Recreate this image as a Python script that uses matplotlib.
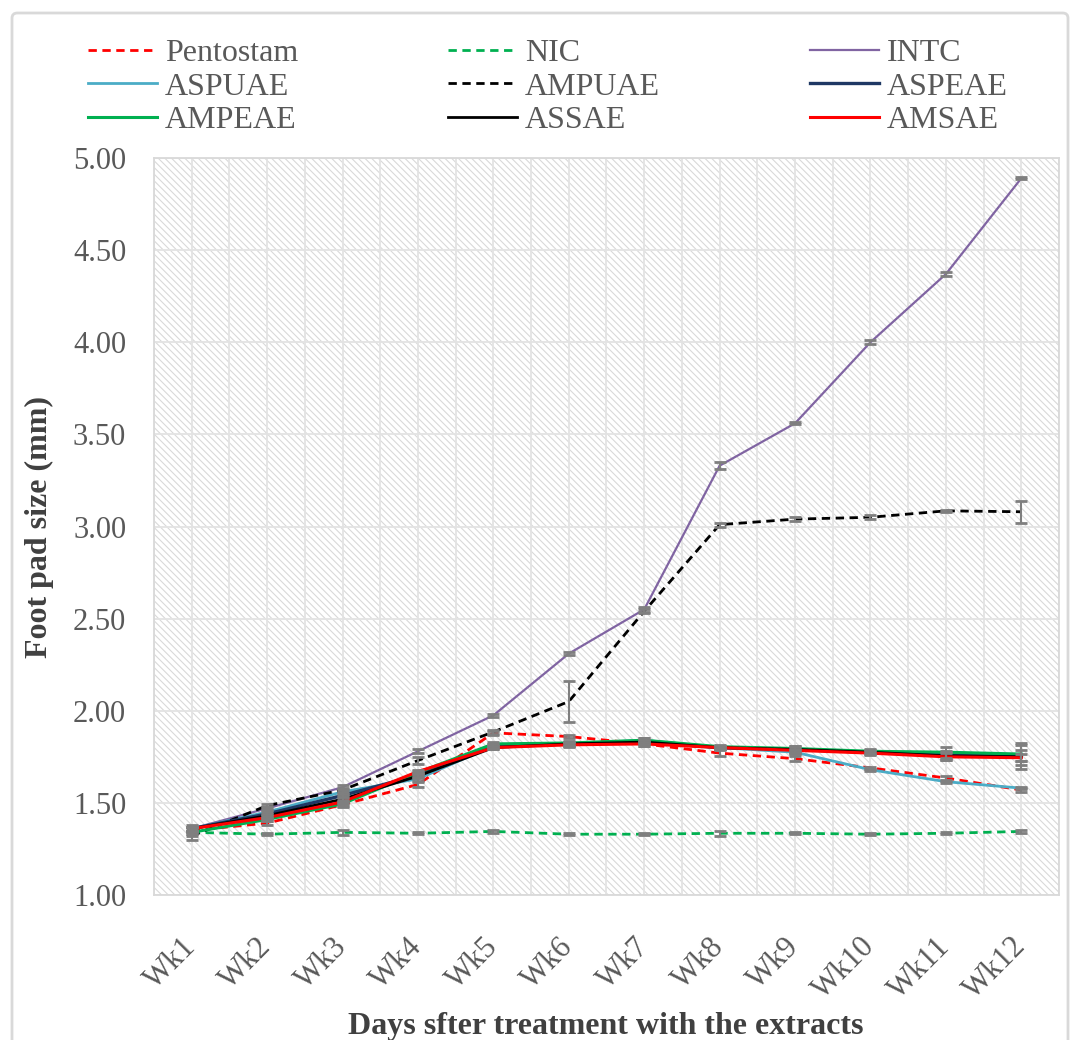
import matplotlib
matplotlib.use("Agg")
import matplotlib.pyplot as plt
from matplotlib.patches import FancyBboxPatch
from matplotlib.ticker import FixedLocator
import numpy as np

# ---------------- data ----------------
weeks = ['Wk1', 'Wk2', 'Wk3', 'Wk4', 'Wk5', 'Wk6', 'Wk7', 'Wk8', 'Wk9', 'Wk10', 'Wk11', 'Wk12']

pentostam = [1.35, 1.39, 1.49, 1.60, 1.88, 1.86, 1.82, 1.77, 1.74, 1.69, 1.635, 1.57]
nic       = [1.34, 1.33, 1.34, 1.335, 1.345, 1.33, 1.33, 1.335, 1.335, 1.33, 1.335, 1.345]
intc      = [1.36, 1.47, 1.585, 1.78, 1.975, 2.31, 2.55, 3.33, 3.56, 4.00, 4.37, 4.89]
aspuae    = [1.36, 1.45, 1.56, 1.63, 1.81, 1.82, 1.84, 1.80, 1.775, 1.68, 1.615, 1.58]
ampuae    = [1.32, 1.485, 1.57, 1.73, 1.885, 2.05, 2.54, 3.01, 3.04, 3.05, 3.085, 3.08]
aspeae    = [1.36, 1.44, 1.54, 1.65, 1.81, 1.82, 1.83, 1.80, 1.79, 1.775, 1.76, 1.755]
ampeae    = [1.34, 1.41, 1.495, 1.665, 1.82, 1.825, 1.84, 1.805, 1.795, 1.78, 1.775, 1.765]
assae     = [1.36, 1.43, 1.52, 1.645, 1.80, 1.82, 1.83, 1.80, 1.79, 1.775, 1.755, 1.75]
amsae     = [1.36, 1.42, 1.505, 1.67, 1.80, 1.815, 1.82, 1.80, 1.785, 1.77, 1.75, 1.745]

pentostam_err = [0.02, 0.01, 0.01, 0.015, 0.01, 0.01, 0.01, 0.015, 0.015, 0.005, 0.01, 0.01]
nic_err       = [0.02, 0.005, 0.015, 0.005, 0.01, 0.005, 0.005, 0.015, 0.005, 0.005, 0.005, 0.01]
intc_err      = [0.02, 0.01, 0.01, 0.01, 0.01, 0.01, 0.015, 0.02, 0.005, 0.01, 0.01, 0.005]
aspuae_err    = [0.01, 0.01, 0.01, 0.01, 0.01, 0.01, 0.01, 0.01, 0.01, 0.005, 0.005, 0.005]
ampuae_err    = [0.02, 0.01, 0.01, 0.02, 0.01, 0.11, 0.01, 0.01, 0.01, 0.01, 0.005, 0.06]
aspeae_err    = [0.01, 0.01, 0.01, 0.01, 0.01, 0.01, 0.01, 0.01, 0.02, 0.01, 0.02, 0.03]
ampeae_err    = [0.01, 0.01, 0.01, 0.01, 0.01, 0.01, 0.01, 0.01, 0.01, 0.01, 0.03, 0.06]
assae_err     = [0.01, 0.01, 0.01, 0.01, 0.01, 0.01, 0.01, 0.01, 0.02, 0.01, 0.02, 0.065]
amsae_err     = [0.01, 0.01, 0.01, 0.01, 0.01, 0.01, 0.01, 0.01, 0.01, 0.01, 0.02, 0.02]

y_ticks = [1.0, 1.5, 2.0, 2.5, 3.0, 3.5, 4.0, 4.5, 5.0]

# ---------------- style ----------------
plt.rcParams['font.family'] = ['Liberation Serif', 'DejaVu Serif']
plt.rcParams['hatch.color'] = '#d9d9d9'
plt.rcParams['hatch.linewidth'] = 0.8

fig = plt.figure(figsize=(10.75, 10.4), dpi=100)
ax = fig.add_axes([154/1075, 1-895/1040, 905/1075, 737/1040])

ax.patch.set_facecolor('white')
ax.patch.set_hatch('\\\\\\\\\\')
ax.patch.set_edgecolor('#d9d9d9')

x = np.arange(1, len(weeks) + 1)

series = [
    ('Pentostam', pentostam, pentostam_err, '#FF0000', (0, (3, 2)), 2.0),
    ('NIC', nic, nic_err, '#00B050', (0, (3, 2)), 2.0),
    ('INTC', intc, intc_err, '#8064A2', '-', 1.6),
    ('ASPUAE', aspuae, aspuae_err, '#4BACC6', '-', 2.0),
    ('AMPUAE', ampuae, ampuae_err, '#000000', (0, (3, 2)), 2.0),
    ('ASPEAE', aspeae, aspeae_err, '#1F3864', '-', 2.4),
    ('AMPEAE', ampeae, ampeae_err, '#00B050', '-', 2.2),
    ('ASSAE', assae, assae_err, '#000000', '-', 2.0),
    ('AMSAE', amsae, amsae_err, '#FF0000', '-', 2.2),
]

handles = {}
for name, vals, err, color, ls, lw in series:
    h, = ax.plot(x, vals, color=color, linestyle=ls, linewidth=lw, label=name, zorder=3)
    handles[name] = h
for name, vals, err, color, ls, lw in series:
    ax.errorbar(x, vals, yerr=err, fmt='none', ecolor='#7f7f7f', elinewidth=1.5,
                capsize=4, capthick=2.0, zorder=4)

ax.set_xlim(0.5, len(weeks) + 0.5)
ax.set_ylim(1.0, 5.0)
ax.set_xticks(x)
ax.set_xticklabels(weeks)
ax.xaxis.set_minor_locator(FixedLocator(np.arange(0.5, len(weeks) + 1, 1.0)))
ax.set_yticks(y_ticks)
ax.set_yticklabels([f'{v:.2f}' for v in y_ticks])

ax.grid(True, which='both', axis='x', color='#e3e3e3', linewidth=1.3, zorder=1)
ax.grid(True, which='major', axis='y', color='#e3e3e3', linewidth=1.3, zorder=1)
ax.set_axisbelow(True)

for s in ax.spines.values():
    s.set_color('#d9d9d9')
    s.set_linewidth(1.3)

ax.tick_params(axis='both', which='both', length=0)
ax.tick_params(axis='y', labelsize=22, labelcolor='#595959', pad=20)
ax.tick_params(axis='x', labelsize=22, labelcolor='#595959', pad=34)
for lbl in ax.get_xticklabels():
    lbl.set_rotation(45)
    lbl.set_ha('right')
    lbl.set_va('center')
    lbl.set_rotation_mode('anchor')

ax.set_ylabel('Foot pad size (mm)', fontsize=23, fontweight='bold', color='#404040')
ax.yaxis.set_label_coords((54-154)/905, 0.5)
fig.text(606/1075, (1040-1034)/1040, 'Days sfter treatment with the extracts',
         fontsize=23, fontweight='bold', color='#404040', ha='center', va='baseline')

order = ['Pentostam', 'ASPUAE', 'AMPEAE', 'NIC', 'AMPUAE', 'ASSAE', 'INTC', 'ASPEAE', 'AMSAE']
leg = fig.legend([handles[n] for n in order], order, loc='upper left',
                 bbox_to_anchor=(88/1075, 1-39/1040), ncol=3, frameon=False,
                 fontsize=23, handlelength=2.15, handletextpad=0.25,
                 columnspacing=4.7, labelspacing=0.12, borderaxespad=0, borderpad=0)
for t in leg.get_texts():
    t.set_color('#595959')

border = FancyBboxPatch((12/1075, -0.05), (1068-12)/1075, 1-13/1040 + 0.05,
                        boxstyle='round,pad=0,rounding_size=0.005',
                        transform=fig.transFigure, fill=False,
                        edgecolor='#d9d9d9', linewidth=2, zorder=0)
fig.patches.append(border)

fig.savefig('out.png', dpi=100)
